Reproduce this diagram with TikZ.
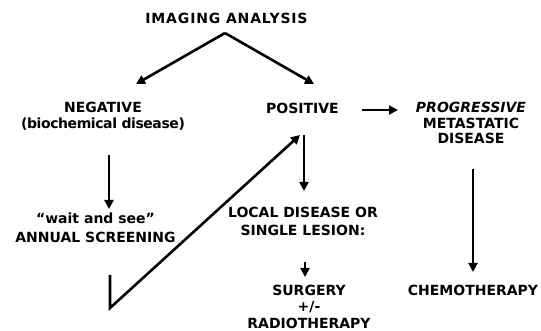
\documentclass[tikz,border=0pt]{standalone}
\usepackage{fontspec}
\setmainfont{DejaVu Sans}
\usetikzlibrary{arrows.meta}
\begin{document}
\begin{tikzpicture}[x=1pt,y=-1pt,
  lbl/.style={font=\bfseries\fontsize{14}{17}\selectfont, align=center, inner sep=0pt},
  arr/.style={line width=2.6pt, -{Triangle[length=9pt,width=9pt]}}]
\useasboundingbox (0,0) rectangle (541,331);
\node[lbl] (ia) at (226.5,18) {\addfontfeature{LetterSpace=6}IMAGING ANALYSIS};
\node[lbl, font=\bfseries\fontsize{14}{15.5}\selectfont] (neg) at (103,116) {NEGATIVE\\{\addfontfeature{LetterSpace=-3}(biochemical disease)}};
\node[lbl] (pos) at (302.5,108) {POSITIVE};
\node[lbl, font=\bfseries\fontsize{14}{15.5}\selectfont] (prog) at (471,123) {\textit{PROGRESSIVE}\\METASTATIC\\DISEASE};
\node[lbl, font=\bfseries\fontsize{14}{19}\selectfont] (wait) at (95.5,227.5) {``wait and see''\\ANNUAL SCREENING};
\node[lbl, font=\bfseries\fontsize{14}{18}\selectfont] (local) at (303,221) {LOCAL DISEASE OR\\SINGLE LESION:};
\node[lbl, font=\bfseries\fontsize{14}{16.5}\selectfont] (surg) at (309,306.5) {SURGERY\\+/-\\RADIOTHERAPY};
\node[lbl] (chemo) at (473,290) {CHEMOTHERAPY};
\coordinate (apex) at (225,33);
\coordinate (negin) at (136,84);
\coordinate (posin) at (314,84);
\coordinate (negout) at (109,155);
\coordinate (waitin) at (109,209);
\coordinate (loopa) at (110,275);
\coordinate (loopb) at (110,308);
\coordinate (posfb) at (300,135);
\coordinate (posout) at (304,135);
\coordinate (localin) at (304,191);
\coordinate (localout) at (305,262);
\coordinate (surgin) at (305,277);
\coordinate (posr) at (362,110);
\coordinate (progin) at (398,110);
\coordinate (progout) at (473,169);
\coordinate (chemoin) at (473,272);
\draw[arr] (apex) -- (negin);
\draw[arr] (apex) -- (posin);
\draw[arr] (posr) -- (progin);
\draw[arr] (negout) -- (waitin);
\draw[arr] (posout) -- (localin);
\draw[arr] (localout) -- (surgin);
\draw[arr, line width=2pt] (progout) -- (chemoin);
\draw[arr, line join=miter] (loopa) -- (loopb) -- (posfb);
\end{tikzpicture}
\end{document}
